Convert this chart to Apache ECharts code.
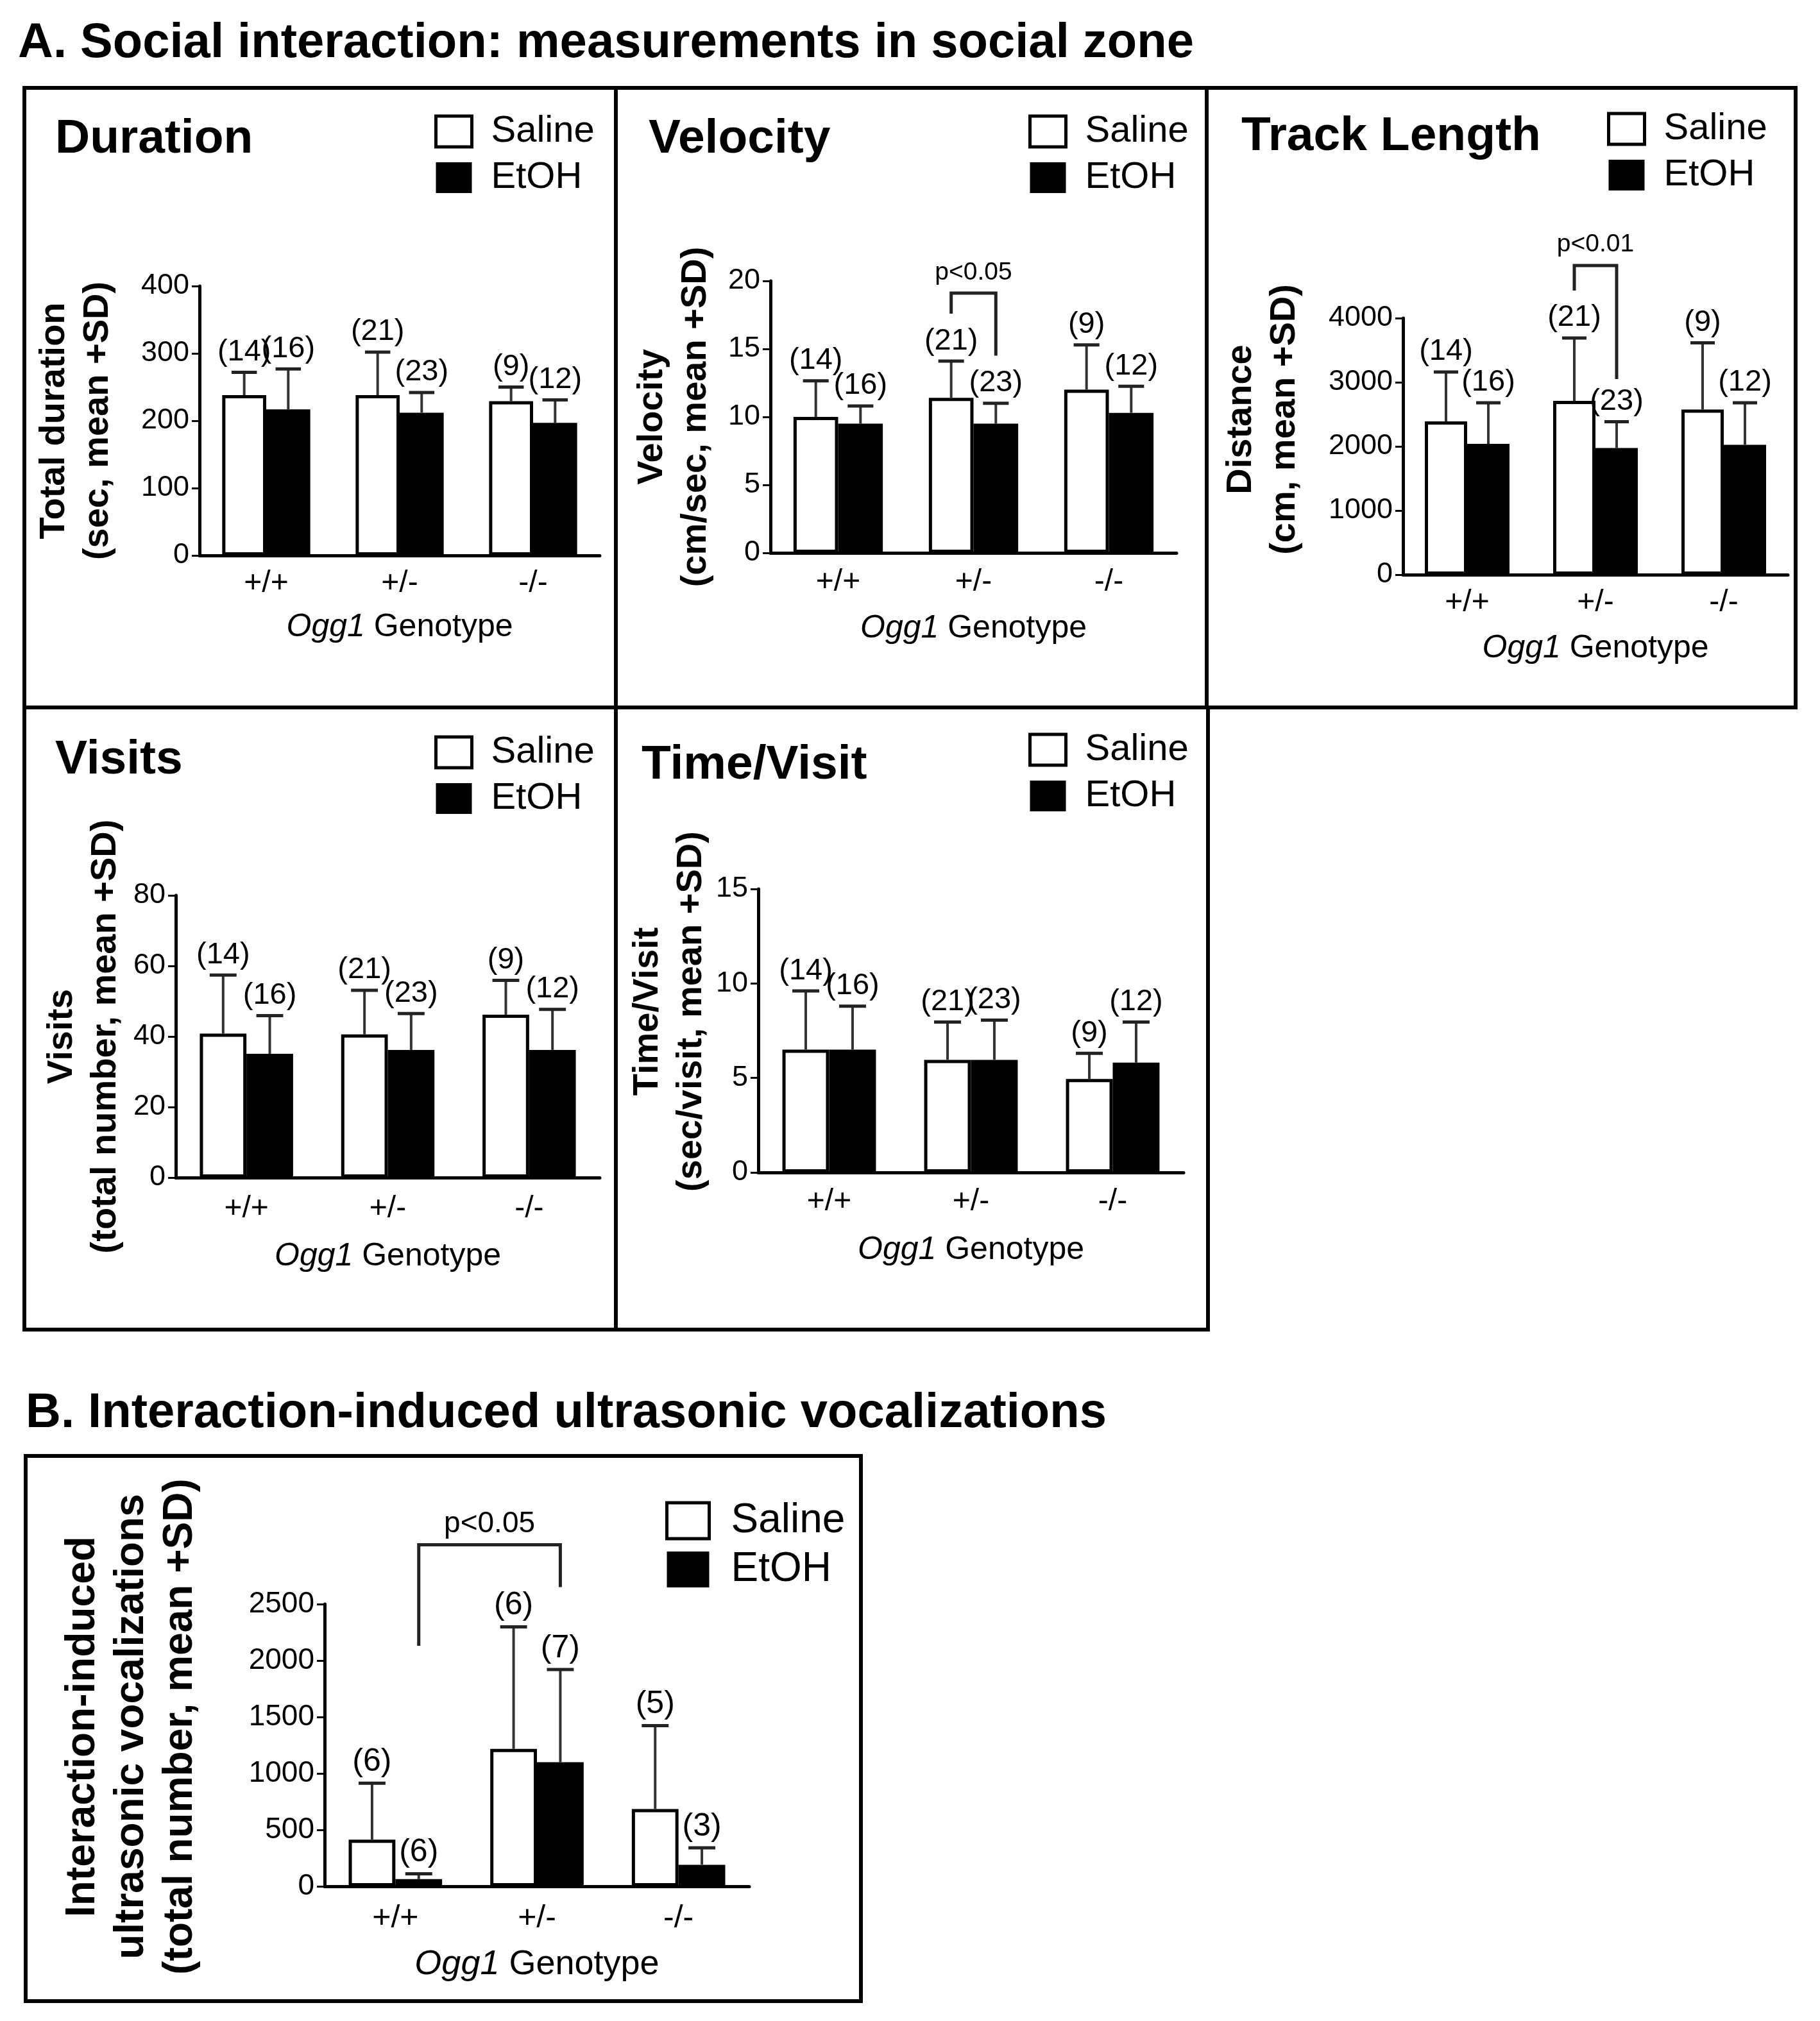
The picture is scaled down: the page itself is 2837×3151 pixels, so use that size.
<!DOCTYPE html>
<html><head><meta charset="utf-8">
<script src="https://cdn.jsdelivr.net/npm/echarts@6/dist/echarts.min.js"></script>
<style>html,body{margin:0;padding:0;background:#fff}#c{width:2837px;height:3151px}</style>
</head><body><div id="c"></div>
<script>
// ---------- data ----------
const genotypes = ['+/+', '+/-', '-/-'];
const groups = ['Saline', 'EtOH'];

const durationSaline = [238, 238, 229];
const durationSalineSD = [34, 64, 21];
const durationEtOH = [217, 212, 197];
const durationEtOHSD = [60, 30, 34];

const velocitySaline = [10.0, 11.4, 12.0];
const velocitySalineSD = [2.65, 2.7, 3.3];
const velocityEtOH = [9.5, 9.5, 10.3];
const velocityEtOHSD = [1.3, 1.5, 1.95];

const trackSaline = [2390, 2710, 2575];
const trackSalineSD = [770, 980, 1040];
const trackEtOH = [2040, 1975, 2025];
const trackEtOHSD = [640, 410, 655];

const visitsSaline = [40.8, 40.6, 46.2];
const visitsSalineSD = [16.6, 12.5, 9.7];
const visitsEtOH = [35.1, 36.2, 36.2];
const visitsEtOHSD = [10.8, 10.3, 11.5];

const timeVisitSaline = [6.5, 5.96, 4.95];
const timeVisitSalineSD = [3.1, 2.0, 1.35];
const timeVisitEtOH = [6.5, 5.96, 5.81];
const timeVisitEtOHSD = [2.3, 2.1, 2.15];

const usvSaline = [414, 1217, 685];
const usvSalineSD = [500, 1082, 739];
const usvEtOH = [64, 1099, 191];
const usvEtOHSD = [47, 821, 150];

const nSocialSaline = [14, 21, 9];
const nSocialEtOH = [16, 23, 12];
const nUsvSaline = [6, 6, 5];
const nUsvEtOH = [6, 7, 3];

// significance brackets: [left genotype, left group, right genotype, right group, top, left leg end, right leg end, label level]
const velocityBracket = [1, 0, 1, 1, 19.1, 17.6, 14.5, 20.6];
const trackBracket = [1, 0, 1, 1, 4820, 4430, 3050, 5150];
const usvBracket = [0, 1, 1, 1, 3025, 2130, 2650, 3210];
const velocityP = 'p<0.05';
const trackP = 'p<0.01';
const usvP = 'p<0.05';

// ---------- layout ----------
const FF = 'Liberation Sans, Arial, Helvetica, sans-serif';
const BAR_FRAC = 0.33;

const panels = [
  {title: 'Duration', tl: [86, 180], lg: [677, 176], grid: {left: 311, top: 446, width: 624, height: 420},
   max: 400, interval: 100, yName: 'Total duration\n(sec, mean +SD)', yGap: 124, yPad: 0,
   sal: durationSaline, salSD: durationSalineSD, et: durationEtOH, etSD: durationEtOHSD,
   nS: nSocialSaline, nE: nSocialEtOH, lblMargin: 20, xGap: 87},
  {title: 'Velocity', tl: [1011, 180], lg: [1603, 176], grid: {left: 1201, top: 438, width: 633, height: 424},
   max: 20, interval: 5, yName: 'Velocity\n(cm/sec, mean +SD)', yGap: 82, yPad: 0,
   sal: velocitySaline, salSD: velocitySalineSD, et: velocityEtOH, etSD: velocityEtOHSD,
   nS: nSocialSaline, nE: nSocialEtOH, lblMargin: 22, xGap: 93, br: velocityBracket, p: velocityP},
  {title: 'Track Length', tl: [1935, 176], lg: [2505, 172], grid: {left: 2187, top: 496, width: 600, height: 400},
   max: 4000, interval: 1000, yName: 'Distance\n(cm, mean +SD)', yGap: 150, yPad: 84,
   sal: trackSaline, salSD: trackSalineSD, et: trackEtOH, etSD: trackEtOHSD,
   nS: nSocialSaline, nE: nSocialEtOH, lblMargin: 20, xGap: 90, br: trackBracket, p: trackP},
  {title: 'Visits', tl: [86, 1148], lg: [677, 1144], grid: {left: 274, top: 1396, width: 661, height: 440},
   max: 80, interval: 20, yName: 'Visits\n(total number, mean +SD)', yGap: 75, yPad: 0,
   sal: visitsSaline, salSD: visitsSalineSD, et: visitsEtOH, etSD: visitsEtOHSD,
   nS: nSocialSaline, nE: nSocialEtOH, lblMargin: 25, xGap: 98},
  {title: 'Time/Visit', tl: [1000, 1156], lg: [1603, 1140], grid: {left: 1182, top: 1386, width: 663, height: 442},
   max: 15, interval: 5, yName: 'Time/Visit\n(sec/visit, mean +SD)', yGap: 67, yPad: 60,
   sal: timeVisitSaline, salSD: timeVisitSalineSD, et: timeVisitEtOH, etSD: timeVisitEtOHSD,
   nS: nSocialSaline, nE: nSocialEtOH, lblMargin: 22, xGap: 96},
  {title: null, lg: [1037, 2339], big: true, grid: {left: 506, top: 2501, width: 662, height: 440},
   max: 2500, interval: 500, yName: 'Interaction-induced\nultrasonic vocalizations\n(total number, mean +SD)', yGap: 187, yPad: 58,
   sal: usvSaline, salSD: usvSalineSD, et: usvEtOH, etSD: usvEtOHSD,
   nS: nUsvSaline, nE: nUsvEtOH, lblMargin: 25, xGap: 95, br: usvBracket, p: usvP}
];

function errRender(nFont) {
  return function (params, api) {
    const cat = api.value(0), top = api.value(1), mean = api.value(2), side = api.value(3), n = api.value(4);
    const band = api.size([1, 0])[0];
    const pm = api.coord([cat, mean]);
    const pt = api.coord([cat, top]);
    const x = pm[0] + side * band * BAR_FRAC / 2;
    const cw = band * 0.19;
    return {type: 'group', children: [
      {type: 'line', shape: {x1: x, y1: pm[1], x2: x, y2: pt[1]}, style: {stroke: '#333', lineWidth: 4}},
      {type: 'line', shape: {x1: x - cw / 2, y1: pt[1], x2: x + cw / 2, y2: pt[1]}, style: {stroke: '#222', lineWidth: 5}},
      {type: 'text', x: x, y: pt[1] - 8, style: {text: '(' + n + ')', fill: '#000', fontSize: nFont, fontFamily: FF, align: 'center', verticalAlign: 'bottom'}}
    ]};
  };
}
function bracketRender(text, pFont) {
  return function (params, api) {
    const band = api.size([1, 0])[0];
    const lx = api.coord([api.value(0), 0])[0] + (api.value(1) ? 1 : -1) * band * BAR_FRAC / 2;
    const rx = api.coord([api.value(2), 0])[0] + (api.value(3) ? 1 : -1) * band * BAR_FRAC / 2;
    const yt = api.coord([0, api.value(4)])[1];
    const yl = api.coord([0, api.value(5)])[1];
    const yr = api.coord([0, api.value(6)])[1];
    const yp = api.coord([0, api.value(7)])[1];
    return {type: 'group', children: [
      {type: 'polyline', shape: {points: [[lx, yl], [lx, yt], [rx, yt], [rx, yr]]}, style: {stroke: '#222', lineWidth: 5, fill: null}},
      {type: 'text', x: (lx + rx) / 2, y: yp, style: {text: text, fill: '#000', fontSize: pFont, fontFamily: FF, align: 'center', verticalAlign: 'middle'}}
    ]};
  };
}

const option = {
  backgroundColor: '#fff',
  animation: false,
  textStyle: {fontFamily: FF},
  title: [], legend: [], grid: [], xAxis: [], yAxis: [], series: [],
  graphic: []
};

option.title.push({text: 'A. Social interaction: measurements in social zone', left: 28, top: 30, padding: 0,
  textStyle: {fontSize: 76, fontWeight: 'bold', color: '#000', fontFamily: FF}});
option.title.push({text: 'B. Interaction-induced ultrasonic vocalizations', left: 40, top: 2166, padding: 0,
  textStyle: {fontSize: 76, fontWeight: 'bold', color: '#000', fontFamily: FF}});

panels.forEach((p, i) => {
  const big = !!p.big;
  if (p.title) option.title.push({text: p.title, left: p.tl[0], top: p.tl[1], padding: 0,
    textStyle: {fontSize: 75, fontWeight: 'bold', color: '#000', fontFamily: FF}});
  const lf = big ? 64 : 58;
  option.legend.push({
    left: p.lg[0], top: p.lg[1], orient: 'vertical', padding: 0, selectedMode: false,
    icon: 'rect', itemWidth: big ? 66 : 56, itemHeight: big ? 56 : 48, itemGap: big ? 12 : 14,
    textStyle: {fontSize: lf, lineHeight: lf, color: '#000', fontFamily: FF, padding: [0, 0, 0, big ? 29 : 25]},
    data: [
      {name: 'Saline', itemStyle: {color: '#fff', borderColor: '#000', borderWidth: 5}},
      {name: 'EtOH', itemStyle: {color: '#000', borderColor: '#000', borderWidth: 0}}
    ]
  });
  option.grid.push(Object.assign({containLabel: false}, p.grid));
  option.xAxis.push({
    type: 'category', gridIndex: i, data: genotypes,
    axisLine: {lineStyle: {color: '#000', width: 5}},
    axisTick: {alignWithLabel: true, length: 14, lineStyle: {color: '#000', width: 4}},
    axisLabel: {fontSize: big ? 50 : 48, color: '#000', margin: p.lblMargin, fontFamily: FF},
    name: '{it|Ogg1} Genotype', nameLocation: 'middle', nameGap: p.xGap,
    nameTextStyle: {fontSize: big ? 54 : 50, color: '#000', fontFamily: FF,
      rich: {it: {fontStyle: 'italic', fontSize: big ? 54 : 50, color: '#000', fontFamily: FF}}}
  });
  option.yAxis.push({
    type: 'value', gridIndex: i, min: 0, max: p.max, interval: p.interval,
    axisLine: {show: true, lineStyle: {color: '#000', width: 5}},
    axisTick: {show: true, length: 12, lineStyle: {color: '#000', width: 3}},
    splitLine: {show: false},
    axisLabel: {fontSize: big ? 46 : 45, color: '#000', margin: 16, fontFamily: FF, formatter: v => String(v)},
    name: p.yName, nameLocation: 'middle', nameRotate: 90, nameGap: p.yGap,
    nameTextStyle: {fontSize: big ? 64 : 56, fontWeight: 'bold', lineHeight: big ? 76 : 68, color: '#000', fontFamily: FF,
      padding: [0, 0, 0, p.yPad]}
  });
  option.series.push({
    type: 'bar', name: 'Saline', xAxisIndex: i, yAxisIndex: i, data: p.sal,
    barWidth: (BAR_FRAC * 100) + '%', barGap: '0%',
    itemStyle: {color: '#fff', borderColor: '#000', borderWidth: 5}, z: 2
  });
  option.series.push({
    type: 'bar', name: 'EtOH', xAxisIndex: i, yAxisIndex: i, data: p.et,
    barWidth: (BAR_FRAC * 100) + '%', barGap: '0%',
    itemStyle: {color: '#000', borderColor: '#000', borderWidth: 2}, z: 3
  });
  const errData = [];
  genotypes.forEach((g, j) => {
    errData.push([j, p.sal[j] + p.salSD[j], p.sal[j], -1, p.nS[j]]);
    errData.push([j, p.et[j] + p.etSD[j], p.et[j], 1, p.nE[j]]);
  });
  option.series.push({
    type: 'custom', xAxisIndex: i, yAxisIndex: i, data: errData, z: 4, silent: true,
    renderItem: errRender(big ? 50 : 47)
  });
  if (p.br) {
    option.series.push({
      type: 'custom', xAxisIndex: i, yAxisIndex: i, data: [p.br], z: 5, silent: true,
      renderItem: bracketRender(p.p, big ? 46 : 39)
    });
  }
});

// panel frames
const frames = [
  [38, 137, 960, 1103], [960, 137, 1881, 1103], [1881, 137, 2799, 1103],
  [38, 1103, 960, 2073], [960, 1103, 1883, 2073], [40, 2270, 1342, 3120]
];
frames.forEach(f => option.graphic.push({
  type: 'rect', shape: {x: f[0], y: f[1], width: f[2] - f[0], height: f[3] - f[1]},
  style: {fill: null, stroke: '#000', lineWidth: 6}, silent: true, z: 100
}));

const chart = echarts.init(document.getElementById('c'), null, {renderer: 'canvas', width: 2837, height: 3151});
chart.setOption(option);
</script>
</body></html>
